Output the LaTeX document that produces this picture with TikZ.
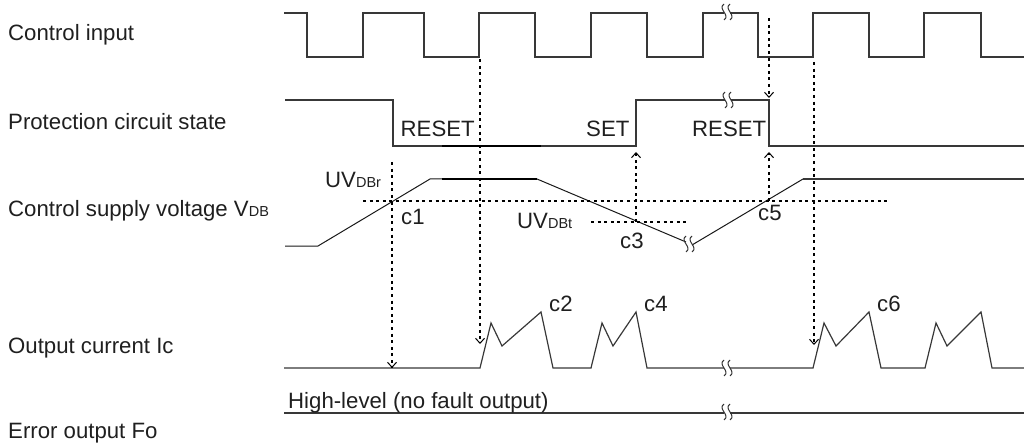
\documentclass[tikz,border=0pt]{standalone}
\usepackage{fontspec}
\setmainfont{Liberation Sans}
\usetikzlibrary{arrows.meta}
\begin{document}
\begin{tikzpicture}[x=1pt,y=-1pt,
  wave/.style={draw=black!78, line width=1.2pt, line join=miter},
  heavy/.style={draw=black, line width=2pt},
  dots/.style={draw=black, line width=2pt, dash pattern=on 3pt off 3.6pt},
  dotarrow/.style={dots, -{Straight Barb[length=5pt,width=9pt,line width=1pt]}},
  lbl/.style={anchor=base west, inner sep=0pt, font=\fontsize{22.2}{24}\selectfont, text=black!88},
  brk/.pic={
    \fill[white] (-3,-2.5) rectangle (3,2.5);
    \draw[black!80, line width=1pt] (-3,-8) .. controls (-10,-3) and (4,3) .. (-3,8);
    \draw[black!80, line width=1pt] (3,-8) .. controls (-4,-3) and (10,3) .. (3,8);
  }
]
\useasboundingbox (0,0) rectangle (1024,446);

% ---------- left labels
\node[lbl] (lci) at (8,41) {Control input};
\node[lbl] (lpc) at (8,130) {Protection circuit state};
\node[lbl] (lsv) at (8,216.5) {Control supply voltage V{\fontsize{14.5}{16}\selectfont DB}};
\node[lbl] (loc) at (8,353) {Output current Ic};
\node[lbl] (lef) at (8,438) {Error output Fo};

% ---------- control input
\draw[wave] (284,13) -- (307,13) -- (307,57) -- (363,57) -- (363,13) -- (424,13) -- (424,57)
  -- (479,57) -- (479,13) -- (535,13) -- (535,57) -- (591,57) -- (591,13) -- (647,13)
  -- (647,57) -- (703,57) -- (703,13) -- (758,13) -- (758,57) -- (813,57) -- (813,13)
  -- (869,13) -- (869,57) -- (924,57) -- (924,13) -- (981,13) -- (981,57) -- (1024,57);
\pic at (727,12) {brk};

% ---------- protection circuit state
\draw[wave] (285,100) -- (393,100) -- (393,146) -- (636,146) -- (636,100) -- (769,100)
  -- (769,146) -- (1024,146);
\draw[heavy] (442,146) -- (541,146);
\pic at (728,100) {brk};
\node[lbl] (rst1) at (400.5,137) {RESET};
\node[lbl] (set1) at (586,137) {SET};
\node[lbl] (rst2) at (692,137) {RESET};

% ---------- control supply voltage
\draw[wave, draw=black!90, line width=1pt] (285,246) -- (318,246) -- (430,179) -- (537,179) -- (686,242);
\draw[wave, draw=black!90, line width=1pt] (692,245) -- (803,179);
\draw[wave] (803,179) -- (1024,179);
\draw[heavy] (442,179) -- (537,179);
\pic at (689,244) {brk};
\node[lbl] (uvr) at (325,188) {UV{\fontsize{14.5}{16}\selectfont DBr}};
\node[lbl] (uvt) at (517,229) {UV{\fontsize{14.5}{16}\selectfont DBt}};
\node[lbl] (c1) at (401,225) {c1};
\node[lbl] (c3) at (620,248) {c3};
\node[lbl] (c5) at (758,221) {c5};

% ---------- output current
\draw[wave] (284,368) -- (480,368) -- (491,323) -- (502,346) -- (541,312) -- (553,368)
  -- (591,368) -- (602,323) -- (613,346) -- (636,312) -- (647,368) -- (813,368)
  -- (824,323) -- (836,346) -- (869,312) -- (881,368) -- (925,368) -- (936,323)
  -- (947,346) -- (981,312) -- (992,368) -- (1024,368);
\pic at (727,368) {brk};
\node[lbl] (c2) at (549,311) {c2};
\node[lbl] (c4) at (644,311) {c4};
\node[lbl] (c6) at (877,311) {c6};

% ---------- error output
\draw[wave] (284,413) -- (1024,413);
\pic at (727,412) {brk};
\node[lbl] (hl) at (288,408) {High-level (no fault output)};

% ---------- dotted reference lines
\coordinate (h1a) at (363,201); \coordinate (h1b) at (890,201);
\coordinate (h2a) at (591,222); \coordinate (h2b) at (690,222);
\draw[dots] (h1a) -- (h1b);
\draw[dots] (h2a) -- (h2b);

\coordinate (v1a) at (392,162); \coordinate (v1b) at (392,368);
\coordinate (v2a) at (480,59);  \coordinate (v2b) at (480,344);
\coordinate (v3a) at (636,222); \coordinate (v3b) at (636,152);
\coordinate (v4a) at (769,18);  \coordinate (v4b) at (769,98);
\coordinate (v5a) at (769,201); \coordinate (v5b) at (769,152);
\coordinate (v6a) at (814,62);  \coordinate (v6b) at (814,345);
\draw[dotarrow] (v1a) -- (v1b);
\draw[dotarrow] (v2a) -- (v2b);
\draw[dotarrow] (v3a) -- (v3b);
\draw[dotarrow] (v4a) -- (v4b);
\draw[dotarrow] (v5a) -- (v5b);
\draw[dotarrow] (v6a) -- (v6b);
\end{tikzpicture}
\end{document}
